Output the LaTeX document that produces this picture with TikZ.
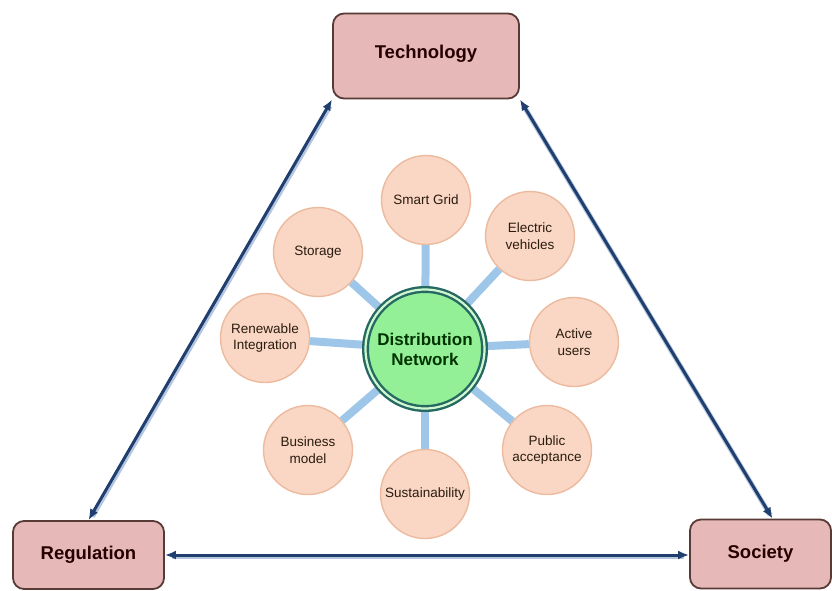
\documentclass[tikz,border=0pt]{standalone}
\usepackage{fontspec}
\setmainfont{Liberation Sans}
\definecolor{boxpink}{RGB}{230,185,184}
\definecolor{boxedge}{RGB}{88,58,54}
\definecolor{petal}{RGB}{250,214,196}
\definecolor{petaledge}{RGB}{236,186,158}
\definecolor{hubgreen}{RGB}{148,240,150}
\definecolor{hubedge}{RGB}{38,105,98}
\definecolor{spoke}{RGB}{158,198,232}
\definecolor{navy}{RGB}{32,62,110}
\definecolor{navyshade}{RGB}{180,198,224}
\usetikzlibrary{arrows.meta,positioning}

\begin{document}
\begin{tikzpicture}[x=1pt, y=-1pt,
        every node/.style={align=center, inner sep=0pt},
        pillar/.style={draw=boxedge, line width=1.8pt, rounded corners=11pt, fill=boxpink,
          text=black!85!red, font=\fontsize{18.5}{22}\selectfont\bfseries},
        topic/.style={circle, draw=petaledge, line width=1.4pt, fill=petal, minimum size=89pt,
          text=black!78!brown, font=\fontsize{13.5}{16.5}\selectfont},
        hub/.style={circle, draw=hubedge, line width=2.4pt, double=hubgreen!45!white, double distance=2.2pt,
          fill=hubgreen, minimum size=119pt, text=black!80!green, font=\fontsize{17}{20}\selectfont\bfseries},
        spokeline/.style={draw=spoke, line width=8pt},
        link/.style={draw=navy, line width=3pt, {Latex[length=11pt,width=9pt]}-{Latex[length=11pt,width=9pt]},
          preaction={draw=navyshade, line width=5pt, arrows=-, shorten <=6pt, shorten >=6pt,
            transform canvas={xshift=0.8pt, yshift=-1.6pt}}}
      ]
      \useasboundingbox (0,0) rectangle (832,590);

      % the three pillars
      \node[pillar, minimum width=186pt, minimum height=85pt, text depth=9pt] (tech) at (426,56) {Technology};
      \node[pillar, minimum width=151pt, minimum height=68pt] (reg) at (88.5,555) {Regulation};
      \node[pillar, minimum width=141pt, minimum height=69pt] (soc) at (760.5,554) {Society};

      \draw[link] (tech.south west) -- (reg.north);
      \draw[link] (tech.south east) -- ([xshift=12pt]soc.north);
      \draw[link] (reg.east) -- (reg.east -| soc.west);

      % hub and topics
      \node[topic] (grid) at (426,200) {Smart Grid};
      \node[topic] (ev) at (530,236) {Electric\\vehicles};
      \node[topic] (users) at (574,342) {Active\\users};
      \node[topic] (public) at (547,450) {Public\\acceptance};
      \node[topic] (sust) at (425,494) {Sustainability};
      \node[topic] (business) at (308,450) {Business\\model};
      \node[topic] (renew) at (265,338) {Renewable\\Integration};
      \node[topic] (storage) at (318,252) {Storage};

      \foreach \t in {grid,ev,users,public,sust,business,renew,storage}
        \draw[spokeline] (425,349) -- (\t);

      \node[hub] (dn) at (425,349) {Distribution\\Network};
    \end{tikzpicture}
\end{document}
